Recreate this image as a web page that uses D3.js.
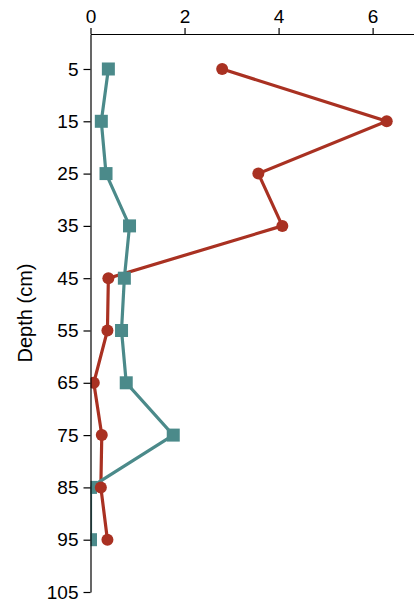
<!DOCTYPE html>
<html><head><meta charset="utf-8">
<script src="https://cdn.jsdelivr.net/npm/d3@7"></script>
<style>body{margin:0;background:#fff}svg{display:block}</style>
</head><body>
<script>
const depths = [5, 15, 25, 35, 45, 55, 65, 75, 85, 95];
const redValues = [2.80, 6.30, 3.57, 4.08, 0.38, 0.36, 0.07, 0.24, 0.22, 0.36];
const tealValues = [0.38, 0.23, 0.33, 0.83, 0.72, 0.66, 0.76, 1.76, 0.0, 0.0];
const xTicks = [0, 2, 4, 6];
const yTicks = [5, 15, 25, 35, 45, 55, 65, 75, 85, 95, 105];

const W = 414, H = 602;
const x0 = 90.5, yTop = 34;
const svg = d3.select("body").append("svg").attr("width", W).attr("height", H);
const x = d3.scaleLinear().domain([0, 6.88]).range([x0, 414]);
const y = d3.scaleLinear().domain([-1.69, 105]).range([yTop, 592]);

const font = "Liberation Sans, Arial, sans-serif";

svg.append("defs").append("clipPath").attr("id", "clip")
  .append("rect").attr("x", x0).attr("y", 0).attr("width", W - x0).attr("height", H);

const g = svg.append("g").attr("clip-path", "url(#clip)");
const red = "#a93122", teal = "#4b8a8a";
const line = vals => d3.line().x((d, i) => x(vals[i])).y(d => y(d))(depths);

g.append("path").attr("d", line(redValues)).attr("fill", "none").attr("stroke", red).attr("stroke-width", 3.2);
g.append("path").attr("d", line(tealValues)).attr("fill", "none").attr("stroke", teal).attr("stroke-width", 3.2);
g.selectAll("rect.sq").data(depths).join("rect").attr("class", "sq")
  .attr("x", (d, i) => x(tealValues[i]) - 6.5).attr("y", d => y(d) - 6.5)
  .attr("width", 13).attr("height", 13).attr("fill", teal);
g.selectAll("circle.pt").data(depths).join("circle").attr("class", "pt")
  .attr("cx", (d, i) => x(redValues[i])).attr("cy", d => y(d)).attr("r", 6).attr("fill", red);

const xa = svg.append("g").attr("transform", `translate(0,${yTop})`)
  .call(d3.axisTop(x).tickValues(xTicks).tickFormat(d3.format("d")).tickSize(6).tickSizeOuter(0).tickPadding(5));
const ya = svg.append("g").attr("transform", `translate(${x0},0)`)
  .call(d3.axisLeft(y).tickValues(yTicks).tickFormat(d3.format("d")).tickSize(7).tickSizeOuter(0).tickPadding(5));
[xa, ya].forEach(a => {
  a.attr("font-size", null).attr("font-family", null);
  a.selectAll("text").style("font-family", font).style("font-size", "19px").attr("fill", "#000");
  a.selectAll("line,path").attr("stroke", "#000").attr("stroke-width", 1.2);
});
svg.append("text").attr("transform", `translate(32,313) rotate(-90)`)
  .attr("text-anchor", "middle").style("font-family", font).style("font-size", "20px")
  .text("Depth (cm)");
</script>
</body></html>
